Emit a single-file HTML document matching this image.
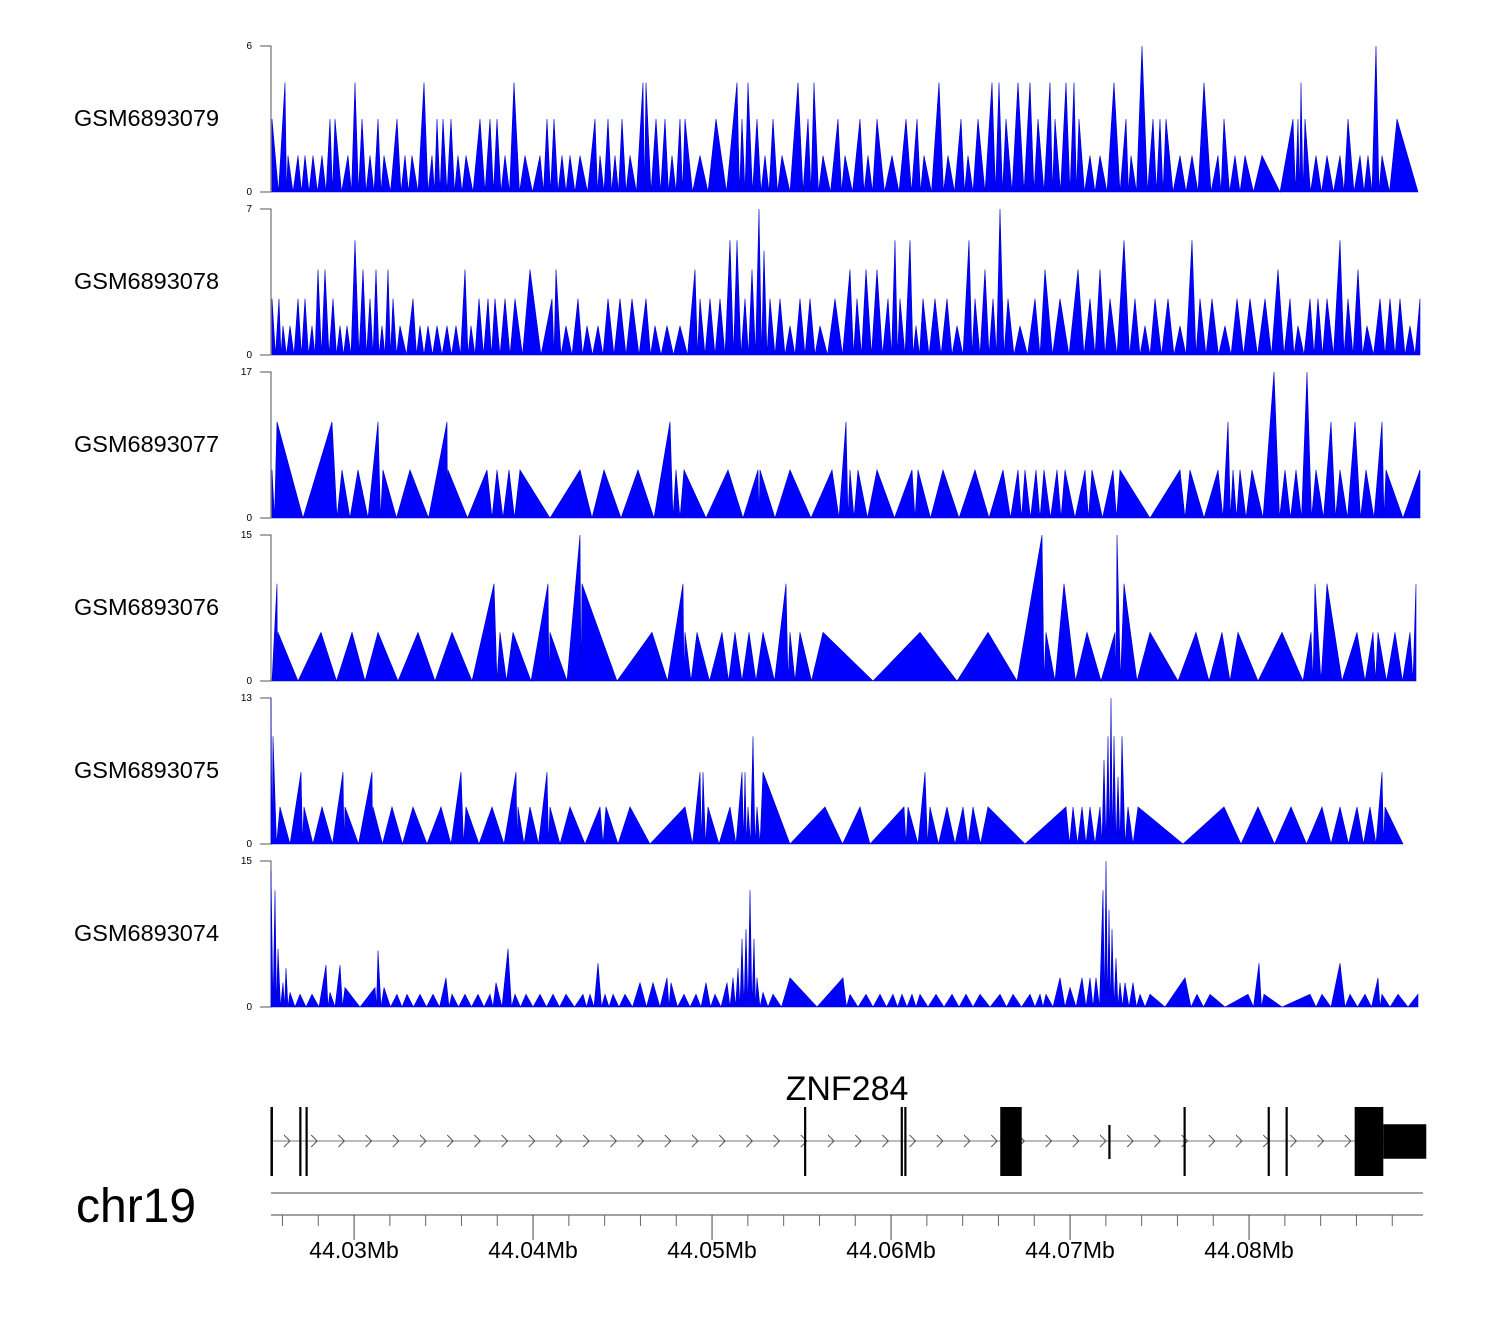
<!DOCTYPE html>
<html><head><meta charset="utf-8"><title>Coverage tracks</title>
<style>
body{margin:0;background:#fff;}
svg{display:block;font-family:"Liberation Sans",sans-serif;}
</style></head>
<body>
<svg id="chart" width="1500" height="1320" viewBox="0 0 1500 1320" xmlns="http://www.w3.org/2000/svg"></svg>
<script>
// ---- data (positions are bin indices, bin = 10000/179 bp, region start = 44025360 bp) ----
const sampleNames = ["GSM6893079","GSM6893078","GSM6893077","GSM6893076","GSM6893075","GSM6893074"];
const yMax = [6,7,17,15,13,15];

const bins0 = [1,14,17,27,34,42,51,59,64,77,84,91,99,107,113,126,134,141,153,161,166,172,180,187,195,209,219,226,234,243,254,269,276,283,291,299,309,324,329,337,344,351,359,372,375,385,394,401,409,414,429,445,466,471,477,486,494,502,511,527,537,543,552,567,574,589,597,606,621,635,646,653,668,677,690,697,707,721,728,735,747,759,767,779,784,795,803,808,819,829,843,855,860,871,882,889,895,909,921,933,947,953,964,974,991,1009,1022,1027,1030,1034,1045,1056,1069,1077,1089,1097,1105,1111,1126,1147];
const vals0 = [3,4.5,1.5,1.5,1.5,1.5,1.5,3,3,1.5,4.5,3,1.5,3,1.5,3,1.5,1.5,4.5,1.5,3,3,3,1.5,1.5,3,3,3,1.5,4.5,1.5,1.5,3,3,1.5,1.5,1.5,3,1.5,3,1.5,3,1.5,4.5,4.5,3,3,1.5,3,3,1.5,3,4.5,3,4.5,3,1.5,3,1.5,4.5,3,4.5,1.5,3,1.5,3,1.5,3,1.5,3,3,1.5,4.5,1.5,3,1.5,3,4.5,4.5,3,4.5,4.5,3,4.5,3,4.5,4.5,3,1.5,1.5,4.5,3,1.5,6,3,3,3,1.5,1.5,4.5,1.5,3,1.5,1.5,1.5,0,3,3,4.5,3,1.5,1.5,1.5,3,1.5,1.5,6,1.5,3,0];

const bins1 = [1,8,12,19,27,34,41,47,54,62,69,76,84,92,99,105,111,117,122,129,142,149,157,166,176,185,194,200,208,217,224,234,244,259,270,281,285,295,307,316,327,337,349,361,375,384,396,409,424,429,439,449,459,466,474,481,488,493,499,509,519,529,539,549,564,579,586,595,606,617,624,629,639,645,652,664,676,686,698,704,714,722,729,737,749,764,774,789,807,819,829,839,853,864,874,884,897,909,921,929,941,954,966,979,994,1007,1019,1027,1039,1047,1056,1069,1077,1087,1096,1109,1119,1129,1139,1149];
const vals1 = [2.7,2.7,1.4,1.4,2.7,2.7,1.4,4.1,4.1,2.7,1.4,1.4,5.5,4.1,2.7,4.1,1.4,4.1,2.7,1.4,2.7,1.4,1.4,1.4,1.4,1.4,4.1,1.4,2.7,2.7,2.7,2.7,2.7,4.1,0,2.7,4.1,1.4,2.7,1.4,1.4,2.7,2.7,2.7,2.7,1.4,1.4,1.4,4.1,2.7,2.7,2.7,5.5,5.5,2.7,4.1,7,5,2.7,2.7,1.4,2.7,2.7,1.4,2.7,4.1,2.7,4.1,4.1,2.7,5.5,2.7,5.5,1.4,2.7,2.7,2.7,1.4,5.5,2.7,4.1,2.7,7,2.7,1.4,2.7,4.1,2.7,4.1,2.7,4.1,2.7,5.5,2.7,1.4,2.7,2.7,1.4,5.5,2.7,2.7,1.4,2.7,2.7,2.7,4.1,2.7,1.4,2.7,2.7,2.7,5.5,2.7,4.1,1.4,2.7,2.7,2.7,1.4,2.7];

const bins2 = [1,6,32,61,71,87,107,112,139,176,177,216,226,238,249,309,333,367,399,405,413,457,487,489,519,561,575,579,587,606,641,647,672,704,732,747,754,765,773,786,794,814,821,842,849,879,909,919,947,957,962,969,981,1003,1014,1025,1036,1045,1060,1069,1084,1095,1111,1115,1149];
const vals2 = [5.6,11.2,0,11.2,5.6,5.6,11.2,5.6,5.6,11.2,5.6,5.6,5.6,5.6,5.6,5.6,5.6,5.6,11.2,5.6,5.6,5.6,5.6,5.6,5.6,5.6,11.2,5.6,5.6,5.6,5.6,5.6,5.6,5.6,5.6,5.6,5.6,5.6,5.6,5.6,5.6,5.6,5.6,5.6,5.6,0,5.6,5.6,5.6,11.2,5.6,5.6,5.6,17,5.6,5.6,17,5.6,11.2,5.6,11.2,5.6,11.2,5.6,5.6];

const bins3 = [1,6,7,27,50,81,107,147,181,201,223,229,242,260,277,279,296,309,311,346,381,412,414,426,451,464,478,492,515,519,529,552,602,649,686,717,746,771,775,793,816,844,846,853,879,907,925,951,967,987,1011,1032,1040,1044,1056,1086,1102,1107,1124,1139,1145];
const vals3 = [0,10,5,0,5,5,5,5,5,0,10,5,5,0,10,5,0,15,10,0,5,10,5,5,5,5,5,5,10,5,5,5,0,5,0,5,0,15,5,10,5,5,15,10,5,0,5,5,5,0,5,0,5,10,10,5,5,5,5,5,10];

const bins4 = [0,2,9,19,30,33,51,72,74,101,102,121,142,170,190,195,221,245,247,259,276,279,299,329,335,359,379,414,429,432,437,459,471,474,477,482,486,492,519,554,589,599,633,637,647,654,659,676,692,702,717,754,795,802,811,819,829,833,837,840,843,847,851,857,867,912,953,987,1020,1051,1069,1086,1099,1111,1114,1132];
const vals4 = [13,9.6,3.3,0,6.4,3.3,3.3,6.4,3.3,6.4,3.3,3.3,3.3,3.3,6.4,3.3,3.3,6.4,3.3,3.3,6.4,3.3,3.3,3.3,3.3,3.3,0,3.3,6.4,6.4,3.3,3.3,6.4,6.4,3.3,9.6,3.3,6.4,0,3.3,3.3,0,3.3,3.3,0,6.4,3.3,3.3,3.3,3.3,3.3,0,3.3,3.3,3.3,3.3,3.3,7.5,9.6,13,9.6,6,9.6,3.3,3.3,0,3.3,3.3,3.3,3.3,3.3,3.3,3.3,6.4,3.3,0];

const bins5 = [0,4,7,12,15,19,29,41,55,59,69,74,89,104,107,113,126,136,149,162,175,181,194,207,219,225,237,244,255,269,282,295,312,319,327,334,342,354,369,382,396,400,413,425,435,444,456,462,467,471,475,479,483,486,492,502,519,546,572,579,595,609,622,631,641,649,665,681,695,709,729,742,759,769,775,789,799,811,819,825,832,835,838,841,845,849,854,862,869,879,894,914,926,939,954,977,988,993,1011,1039,1051,1069,1079,1094,1107,1111,1127,1147];
const vals5 = [14,12,6,2.5,4,1.5,1.3,1.3,4.3,1.5,4.3,2,0,2,5.8,2,1.3,1.3,1.3,1.3,3,1.3,1.3,1.3,1.3,2.5,6,1.3,1.3,1.3,1.3,1.3,1.3,1.3,4.5,1.3,1.3,1.3,2.5,2.5,3,2.5,1.3,1.3,2.5,1.3,2.5,3,4,7,8,12,7,3,1.5,1.3,3,0,3,1.3,1.3,1.3,1.3,1.3,1.3,1.3,1.3,1.3,1.3,1.3,1.3,1.3,1.3,1.3,1.3,3,2,3,3,3,12,15,10,8,5,2.5,2.5,2.5,1.3,1.3,0,3,1.3,1.3,0,1.3,4.5,1.3,0,1.3,1.3,4.5,1.3,1.3,3,1.3,1.3,1.3];

const allBins = [bins0,bins1,bins2,bins3,bins4,bins5];
const allVals = [vals0,vals1,vals2,vals3,vals4,vals5];

const tickMb = ["44.03Mb","44.04Mb","44.05Mb","44.06Mb","44.07Mb","44.08Mb"];
const tickKb = [44030,44040,44050,44060,44070,44080];
const minorKb = [44026,44028,44032,44034,44036,44038,44042,44044,44046,44048,44052,44054,44056,44058,44062,44064,44066,44068,44072,44074,44076,44078,44082,44084,44086,44088];

// gene model (kb)
const exonLinesKb = [44025.40,44027.0,44027.35,44055.2,44060.6,44060.8,44072.2,44076.4,44081.1,44082.1];
const exonBoxesKb = [[44066.1,44067.3,1],[44085.9,44087.5,1],[44087.5,44089.9,0.5]];

// ---- scales ----
const X0 = 271, X1 = 1422;
const regionStartKb = 44025.36;
const pxPerKb = 17.9;
const binKb = 10/179;
function xKb(kb){ return X0 + (kb - regionStartKb) * pxPerKb; }
function xBin(b){ return xKb(regionStartKb + b*binKb); }
const trackTop = [46,209,372,535,698,861];
const trackH = 146;
function yVal(t, v){ return trackTop[t] + trackH - (v / yMax[t]) * trackH; }

const NS = "http://www.w3.org/2000/svg";
const svg = document.getElementById("chart");
function mk(tag, attrs, parent){ const e=document.createElementNS(NS,tag); for(const k in attrs) e.setAttribute(k,attrs[k]); (parent||svg).appendChild(e); return e; }

for(let t=0;t<6;t++){
  const g = mk("g",{});
  
  
  const base = trackTop[t] + trackH;
  const lab = mk("text",{x:74,y:trackTop[t]+80,"font-size":23.5,fill:"#000"},g);
  lab.textContent = sampleNames[t];
  
  
  const ax = mk("path",{d:`M260,${trackTop[t]}H271V${base}H260`,stroke:"#555",fill:"none","stroke-width":1},g);
  
  
  const tTop = mk("text",{x:252,y:trackTop[t]+3,"font-size":10,"text-anchor":"end",fill:"#000"},g);
  tTop.textContent = String(yMax[t]);
  
  
  const tBot = mk("text",{x:252,y:base+3,"font-size":10,"text-anchor":"end",fill:"#000"},g);
  tBot.textContent = "0";
  
  
  const bins = allBins[t], vals = allVals[t];
  let d = `M${xBin(bins[0]).toFixed(1)},${base}`;
  for(let i=0;i<bins.length;i++){
    d += `L${xBin(bins[i]).toFixed(1)},${yVal(t,vals[i]).toFixed(1)}`;
    if(i<bins.length-1 && vals[i]>0 && vals[i+1]>0){
      const mid = (bins[i]+bins[i+1])/2;
      d += `L${xBin(mid).toFixed(1)},${base}`;
    }
  }
  d += `L${xBin(bins[bins.length-1]).toFixed(1)},${base}Z`;
  const area = mk("path",{d:d,fill:"#0000ff",stroke:"#0000cc","stroke-width":0.6,"stroke-linejoin":"miter"},g);
  
  
}

// gene track
const gg = mk("g",{});


const gl = mk("line",{x1:X0,y1:1141,x2:1423,y2:1141,stroke:"#777","stroke-width":1},gg);


for(let x=287; x<1350; x+=27.2){
  const a = mk("path",{d:`M${x-3},${1135}L${x+3},1141L${x-3},1147`,stroke:"#555",fill:"none","stroke-width":1},gg);
  
  
}
exonLinesKb.forEach((kb,i)=>{
  const short = (i===6);
  const l = mk("line",{x1:xKb(kb),x2:xKb(kb),y1:short?1125:1107,y2:short?1159:1176,stroke:"#000","stroke-width":i===0?2.5:2.2},gg);
  
  
});
exonBoxesKb.forEach(b=>{
  const h = 69*b[2];
  const r = mk("rect",{x:xKb(b[0]),y:1141.5-h/2,width:xKb(b[1])-xKb(b[0]),height:h,fill:"#000"},gg);
  
  
});
const gn = mk("text",{x:847,y:1100,"font-size":34,"text-anchor":"middle",fill:"#000"},gg);
gn.textContent = "ZNF284";



// genome axis
const axg = mk("g",{});


mk("line",{x1:X0,y1:1193,x2:1423,y2:1193,stroke:"#444","stroke-width":1},axg);
mk("line",{x1:X0,y1:1215,x2:1423,y2:1215,stroke:"#444","stroke-width":1},axg);
minorKb.forEach(kb=>{
  const t = mk("line",{x1:xKb(kb),x2:xKb(kb),y1:1215,y2:1226,stroke:"#666","stroke-width":1},axg);
  
  
});
tickKb.forEach((kb,i)=>{
  const t = mk("line",{x1:xKb(kb),x2:xKb(kb),y1:1215,y2:1240,stroke:"#444","stroke-width":1},axg);
  
  
  const l = mk("text",{x:xKb(kb),y:1258,"font-size":23,"text-anchor":"middle",fill:"#000"},axg);
  l.textContent = tickMb[i];
  
  
});
const chr = mk("text",{x:76,y:1222,"font-size":48,fill:"#000"},svg);
chr.textContent = "chr19";


</script>
</body></html>
